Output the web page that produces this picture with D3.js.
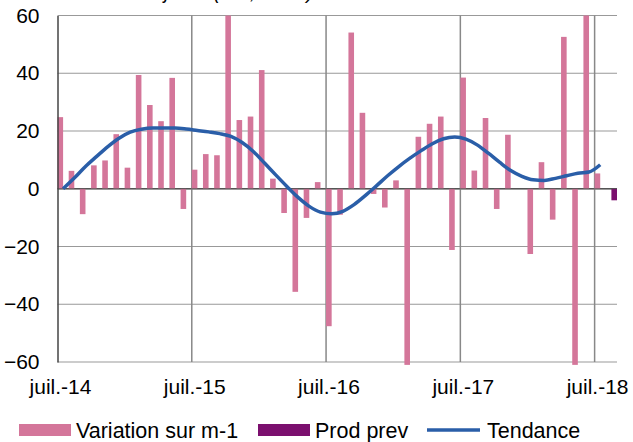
<!DOCTYPE html>
<html>
<head>
<meta charset="utf-8">
<script src="https://cdn.jsdelivr.net/npm/d3@7"></script>
<style>
  body { margin: 0; background: #fff; }
  svg { display: block; font-family: "Liberation Sans", Arial, sans-serif; }
</style>
</head>
<body>
<svg></svg>
<script>
// months juil.-14 .. août-18
const months = d3.range(50).map(i => new Date(2014, 6 + i, 1))

const variation = [
  24.8, 6.2, -8.8, 8.1, 9.8, 18.9, 7.3, 39.4, 29.0, 23.4, 38.4, -7.0,
  6.6, 12.0, 11.6, 60, 23.8, 25.0, 41.1, 3.5, -8.4, -35.7, -10.1, 2.3,
  -47.6, -9.0, 54.1, 26.3, -1.8, -6.5, 2.9, -61, 18.0, 22.5, 25.0, -21.2,
  38.5, 6.3, 24.5, -7.0, 18.7, 0, -22.6, 9.2, -10.7, 52.6, -61, 60,
  5.3, null
]
const prodPrev = [
  null, null, null, null, null, null, null, null, null, null, null, null,
  null, null, null, null, null, null, null, null, null, null, null, null,
  null, null, null, null, null, null, null, null, null, null, null, null,
  null, null, null, null, null, null, null, null, null, null, null, null,
  null, -4.0
]
const tendance = [
  0, 3.7, 7.7, 11.2, 14.6, 17.5, 19.6, 20.6, 21.0, 21.0, 21.0, 20.7,
  20.2, 19.7, 19.1, 18.1, 16.0, 12.9, 8.9, 4.8, 0.8, -3.0, -6.1, -8.1,
  -8.7, -7.8, -5.5, -2.4, 1.0, 4.5, 7.7, 10.6, 13.2, 15.6, 17.3, 17.9,
  17.2, 15.2, 12.3, 9.2, 6.3, 4.3, 3.1, 2.9, 3.6, 4.5, 5.4, 5.8,
  8.3, null
]
const yTicks = [-60, -40, -20, 0, 20, 40, 60]
const legendItems = ['Variation sur m-1', 'Prod prev', 'Tendance']

const svg = d3.select('svg')
const [svgWidth, svgHeight] = [633, 442]
svg.attr('width', svgWidth).attr('height', svgHeight)

const plot = {left: 57.5, right: 617, top: 15.5, bottom: 362}
const fmt = d3.timeFormat('%m-%y')
const monthLabel = d => 'juil.-' + d3.timeFormat('%y')(d)

const x = d3.scaleBand()
  .domain(months.map(fmt))
  .range([plot.left, plot.right])
  .padding(0)

const y = d3.scaleLinear()
  .domain([-60, 60])
  .range([plot.bottom, plot.top])

const bw = x.bandwidth()

// horizontal grid
svg.append('g').selectAll('line').data(yTicks).enter().append('line')
  .attr('x1', plot.left).attr('x2', plot.right)
  .attr('y1', d => y(d)).attr('y2', d => y(d))
  .attr('stroke', d => d === 0 ? '#555' : '#999')
  .attr('stroke-width', d => d === 0 ? 1.5 : 1.2)

// yearly vertical lines (juillet)
const julys = months.filter(d => d.getMonth() === 6)
svg.append('g').selectAll('line').data(julys.slice(1)).enter().append('line')
  .attr('x1', d => x(fmt(d))).attr('x2', d => x(fmt(d)))
  .attr('y1', plot.top).attr('y2', plot.bottom)
  .attr('stroke', '#888').attr('stroke-width', 1.5)

// bars
svg.append('g').selectAll('rect').data(months.map((d, i) => ({d, v: variation[i]})).filter(e => e.v !== null))
  .enter().append('rect')
  .attr('x', e => x(fmt(e.d)))
  .attr('width', bw / 2)
  .attr('y', e => y(Math.max(0, e.v)))
  .attr('height', e => Math.abs(y(e.v) - y(0)))
  .attr('fill', '#d4769a')

svg.append('g').selectAll('rect').data(months.map((d, i) => ({d, v: prodPrev[i]})).filter(e => e.v !== null))
  .enter().append('rect')
  .attr('x', e => x(fmt(e.d)) + bw / 2)
  .attr('width', bw / 2)
  .attr('y', e => y(Math.max(0, e.v)))
  .attr('height', e => Math.abs(y(e.v) - y(0)))
  .attr('fill', '#7b0f6e')

// zero line again over bars
svg.append('line')
  .attr('x1', plot.left).attr('x2', plot.right)
  .attr('y1', y(0)).attr('y2', y(0))
  .attr('stroke', '#555').attr('stroke-width', 1.2).attr('opacity', 0.7)

// trend
const line = d3.line()
  .defined(d => d.v !== null)
  .x(d => x(fmt(d.d)) + bw / 2)
  .y(d => y(d.v))
  .curve(d3.curveMonotoneX)

svg.append('path')
  .datum(months.map((d, i) => ({d, v: tendance[i]})))
  .attr('d', line)
  .attr('fill', 'none')
  .attr('stroke', '#2a5ea8')
  .attr('stroke-width', 3.5)

// left axis
const yAxis = d3.axisLeft(y).tickValues(yTicks).tickSize(0).tickPadding(18)
const gy = svg.append('g').attr('transform', `translate(${plot.left}, 0)`).call(yAxis)
gy.select('.domain').attr('stroke', '#444').attr('stroke-width', 1.5)
gy.selectAll('text').attr('font-size', 21).attr('fill', '#000')
  .attr('font-family', '"Liberation Sans", Arial, sans-serif')

// x labels
svg.append('g').selectAll('text').data(julys).enter().append('text')
  .attr('x', d => x(fmt(d)) + 3)
  .attr('y', 394)
  .attr('text-anchor', 'middle')
  .attr('font-size', 21)
  .text(monthLabel)

// cropped title at the top (only its lower part shows)
svg.append('text')
  .attr('x', 60).attr('y', -1)
  .attr('font-size', 20).attr('font-style', 'italic')
  .text('Nombre de jours (cvs, en %)')

// legend
const lg = svg.append('g').attr('transform', 'translate(0, 430)')
lg.append('rect').attr('x', 19).attr('y', -6).attr('width', 52).attr('height', 12).attr('fill', '#d4769a')
lg.append('text').attr('x', 76).attr('y', 7.5).attr('font-size', 21.5).text(legendItems[0])
lg.append('rect').attr('x', 258).attr('y', -6).attr('width', 52).attr('height', 12).attr('fill', '#7b0f6e')
lg.append('text').attr('x', 315).attr('y', 7.5).attr('font-size', 21.5).text(legendItems[1])
lg.append('line').attr('x1', 427).attr('x2', 480).attr('y1', 0).attr('y2', 0)
  .attr('stroke', '#2a5ea8').attr('stroke-width', 3.5)
lg.append('text').attr('x', 487).attr('y', 7.5).attr('font-size', 21.5).text(legendItems[2])
</script>
</body>
</html>
